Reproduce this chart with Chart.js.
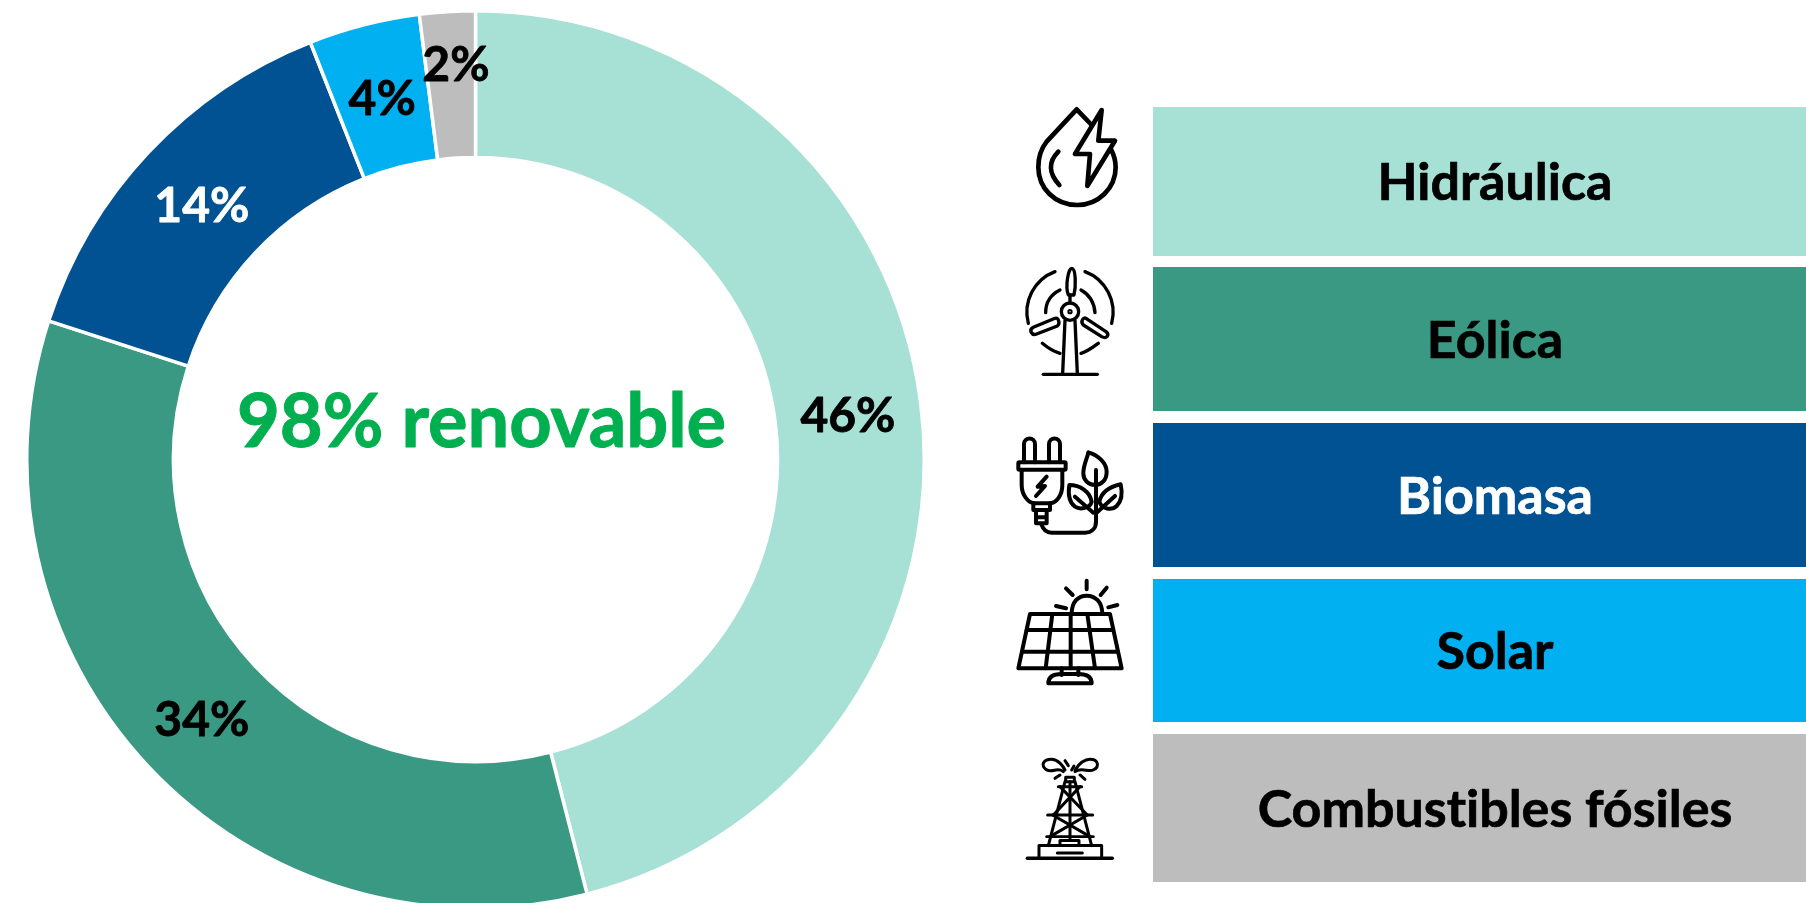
<!DOCTYPE html>
<html>
<head>
<meta charset="utf-8">
<script src="https://cdn.jsdelivr.net/npm/chart.js@4"></script>
<style>
html, body { margin: 0; padding: 0; background: #fff; width: 1806px; height: 903px; overflow: hidden; }
#chartBox { position: absolute; left: 25px; top: 9px; width: 901px; height: 901px; }
#icons { position: absolute; left: 0; top: 0; }
#icons * { fill: none; stroke: #000; stroke-linecap: round; stroke-linejoin: round; }
.row { position: absolute; left: 1153px; width: 653px; display: flex; align-items: center; justify-content: center;
       box-sizing: border-box; padding-left: 31px; padding-bottom: 3px; font: bold 52px Lato, sans-serif;
       font-variant-ligatures: none; -webkit-text-stroke: 0.7px currentColor; }
.row:nth-child(1) { top: 107px; height: 149px; }
.row:nth-child(2) { top: 267px; height: 144px; }
.row:nth-child(3) { top: 423px; height: 144px; }
.row:nth-child(4) { top: 579px; height: 143px; }
.row:nth-child(5) { top: 734px; height: 148px; }
</style>
</head>
<body>
<div id="chartBox"><canvas id="myChart"></canvas></div>
<div id="legendRows"></div>

<svg id="icons" width="1806" height="903">
  <!-- drop + bolt -->
  <g transform="translate(1000,90) scale(0.3333)" stroke-width="14">
    <path d="M275,105 L230,58 L140,155 C120,180 115,205 115,232 C115,295 165,345 232,345 C295,345 347,295 347,232 C347,212 342,195 333,178"/>
    <path d="M305,60 L225,192 L270,192 L262,288 L345,152 L295,152 Z" stroke-width="14"/>
    <path d="M175,185 C145,215 145,250 178,285"/>
  </g>
  <!-- turbine -->
  <g transform="translate(1000,90) scale(0.3333)" stroke-width="10">
    <circle cx="210" cy="665" r="26"/>
    <circle cx="210" cy="665" r="3"/>
    <path d="M205,615 C195,590 205,535 215,535 C228,535 228,590 222,615 Z"/>
    <path d="M165,685 L100,712 C85,720 95,738 110,732 L172,708 C182,700 175,682 165,685 Z"/>
    <path d="M258,685 L318,725 C330,735 320,748 305,740 L250,705 C240,695 250,680 258,685 Z"/>
    <path d="M210,615 V638 M195,692 L188,850 M225,692 L232,850"/>
    <path d="M130,853 H292"/>
    <path d="M165,545 A130,130 0 0 0 85,700 M255,545 A130,130 0 0 1 335,700"/>
    <path d="M180,600 C150,615 137,640 137,668 M243,600 C270,615 283,640 285,668"/>
    <path d="M127,760 C145,775 160,785 180,790 M295,760 C275,775 262,785 243,790"/>
  </g>
  <!-- plug + leaves -->
  <g transform="translate(1000,420) scale(0.3333)" stroke-width="12">
    <path d="M72,127 V72 C72,50 105,50 105,72 V127 M147,127 V72 C147,50 180,50 180,72 V127"/>
    <rect x="55" y="127" width="142" height="22" rx="3"/>
    <path d="M65,150 V195 C65,225 85,250 105,250 H148 C170,250 187,225 187,195 V150"/>
    <path d="M100,250 V270 H150 V250 M108,270 V310 H140 V270 M108,292 H140"/>
    <path d="M140,170 L113,200 L135,198 L108,228"/>
    <path d="M125,315 C130,330 140,338 155,338 H255 C275,338 288,325 288,305 V150"/>
    <path d="M265,97 C295,105 320,130 320,155 C320,180 305,195 285,195 C265,195 250,180 250,160 C250,135 262,115 265,97 Z"/>
    <path d="M208,195 C240,195 270,215 275,245 C270,265 240,270 225,260 C205,245 205,215 208,195 Z"/>
    <path d="M362,193 C330,200 305,215 298,245 C305,268 335,272 350,258 C368,240 367,215 362,193 Z"/>
    <path d="M225,230 L280,278 M345,228 L290,278"/>
  </g>
  <!-- solar panel -->
  <g transform="translate(1000,420) scale(0.3333)" stroke-width="12">
    <path d="M90,582 H330 L365,745 H55 Z"/>
    <path d="M80,630 H338 M67,695 H352 M157,582 L137,745 M212,582 V745 M262,582 L285,745"/>
    <path d="M185,745 V765 M235,745 V765"/>
    <path d="M145,790 C145,770 160,762 185,762 H235 C260,762 275,770 275,790 Z"/>
    <path d="M215,582 C215,545 235,527 260,527 C285,527 307,545 307,582"/>
    <path d="M260,482 V508 M198,505 L218,525 M320,503 L302,525 M168,558 L198,565 M352,555 L325,562"/>
  </g>
  <!-- oil rig -->
  <g transform="translate(1000,420) scale(0.3333)" stroke-width="9">
    <path d="M82,1315 H337" stroke-width="10"/>
    <path d="M117,1315 V1277 H305 V1310 M172,1299 H247 M180,1277 V1262 H237 V1277"/>
    <rect x="197" y="1072" width="26" height="13"/>
    <path d="M195,1085 L145,1277 M225,1085 L275,1277 M210,1085 V1262"/>
    <path d="M175,1100 H245 M143,1185 H278 M140,1250 H280"/>
    <path d="M180,1100 L262,1185 M240,1100 L160,1185 M158,1185 L270,1250 M262,1185 L150,1250"/>
    <path d="M190,1055 C170,1040 160,1060 140,1050 C120,1035 130,1018 155,1018 C175,1018 190,1040 195,1050"/>
    <path d="M225,1050 C235,1035 250,1018 270,1018 C295,1018 300,1040 280,1050 C265,1058 245,1040 225,1055"/>
    <path d="M195,1022 L205,1037 M215,1050 L222,1038 M165,1075 L180,1065 M255,1078 L240,1065"/>
  </g>
</svg>

<script>
var categories = ['Hidráulica', 'Eólica', 'Biomasa', 'Solar', 'Combustibles fósiles'];
var shares = [46, 34, 14, 4, 2];
var sliceColors = ['#A7E0D5', '#399983', '#005293', '#00B0F0', '#BDBDBD'];
var labelColors = ['#000000', '#000000', '#FFFFFF', '#000000', '#000000'];
var centerText = '98% renovable';

// legend rows on the right
var rows = document.getElementById('legendRows');
for (var i = 0; i < categories.length; i++) {
    var row = document.createElement('div');
    row.className = 'row';
    row.textContent = categories[i];
    row.style.background = sliceColors[i];
    row.style.color = labelColors[i];
    rows.appendChild(row);
}

// percent labels on the slices and the text in the hole
var sliceLabels = {
    id: 'sliceLabels',
    afterDatasetsDraw: function (chart) {
        var ctx = chart.ctx;
        var arcs = chart.getDatasetMeta(0).data;
        ctx.save();
        ctx.textAlign = 'center';
        ctx.textBaseline = 'middle';
        ctx.lineJoin = 'round';
        ctx.font = 'bold 48px Lato, sans-serif';
        ctx.lineWidth = 0.8;
        for (var i = 0; i < arcs.length; i++) {
            var pos = arcs[i].tooltipPosition();
            var x = pos.x;
            var y = pos.y + 4;
            // smallest slice label was pushed up in the original
            if (i == arcs.length - 1) {
                x += 4;
                y -= 23;
            }
            ctx.fillStyle = labelColors[i];
            ctx.strokeStyle = labelColors[i];
            ctx.fillText(shares[i] + '%', x, y);
            ctx.strokeText(shares[i] + '%', x, y);
        }
        ctx.fillStyle = '#00B050';
        ctx.strokeStyle = '#00B050';
        ctx.lineWidth = 1;
        ctx.font = 'bold 74px Lato, sans-serif';
        ctx.fillText(centerText, arcs[0].x + 6, arcs[0].y - 36);
        ctx.strokeText(centerText, arcs[0].x + 6, arcs[0].y - 36);
        ctx.restore();
    }
};

var ctx = document.getElementById('myChart').getContext('2d');
var myChart = new Chart(ctx, {
    type: 'doughnut',
    data: {
        labels: categories,
        datasets: [{
            data: shares,
            backgroundColor: sliceColors,
            borderColor: '#FFFFFF',
            borderWidth: 3.5
        }]
    },
    options: {
        responsive: true,
        maintainAspectRatio: false,
        animation: false,
        cutout: '67.3%',
        plugins: {
            legend: { display: false },
            tooltip: { enabled: false }
        }
    },
    plugins: [sliceLabels]
});
</script>
</body>
</html>
